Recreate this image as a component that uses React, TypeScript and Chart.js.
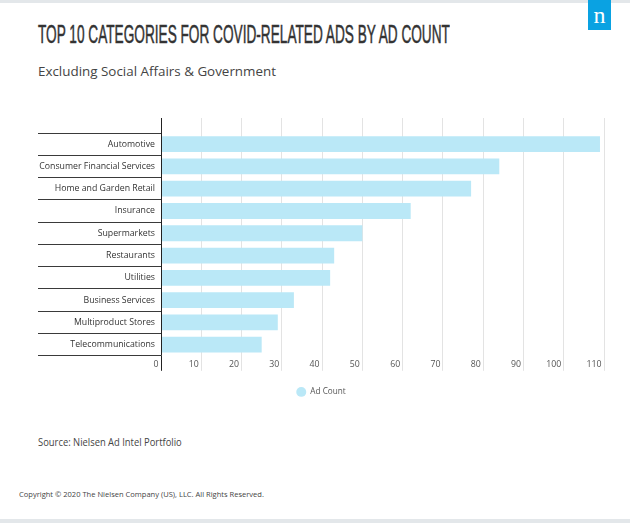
import React, { useEffect, useLayoutEffect, useRef } from "react";
import { Chart, registerables } from "chart.js";

Chart.register(...registerables);

const titleText = "TOP 10 CATEGORIES FOR COVID-RELATED ADS BY AD COUNT";
const subtitleText = "Excluding Social Affairs & Government";
const sourceText = "Source: Nielsen Ad Intel Portfolio";
const copyrightText = "Copyright © 2020 The Nielsen Company (US), LLC. All Rights Reserved.";

const categories = [
  "Automotive",
  "Consumer Financial Services",
  "Home and Garden Retail",
  "Insurance",
  "Supermarkets",
  "Restaurants",
  "Utilities",
  "Business Services",
  "Multiproduct Stores",
  "Telecommunications",
];
const adCounts = [109, 84, 77, 62, 50, 43, 42, 33, 29, 25];
const seriesName = "Ad Count";
const xMin = 0;
const xMax = 110;
const xStep = 10;

const BAR = "#bae8f7";
const GRID = "#e3e3e3";
const AXIS = "#222222";

function FitText(props: { text: string; width: number; style: React.CSSProperties }) {
  const ref = useRef<HTMLSpanElement | null>(null);
  useLayoutEffect(() => {
    const el = ref.current;
    if (!el) return;
    el.style.transform = "none";
    const w = el.offsetWidth;
    if (w > 0) el.style.transform = `scaleX(${props.width / w})`;
  }, [props.text, props.width]);
  return (
    <span
      ref={ref}
      style={{
        position: "absolute",
        display: "inline-block",
        whiteSpace: "nowrap",
        transformOrigin: "0 0",
        ...props.style,
      }}
    >
      {props.text}
    </span>
  );
}

function ChartCanvas() {
  const ref = useRef<HTMLCanvasElement | null>(null);
  useEffect(() => {
    if (!ref.current) return;
    const font = { family: "'Open Sans'", size: 8.75 };
    const isZero = (ctx: any) => ctx.tick && ctx.tick.value === 0;
    const chart = new Chart(ref.current, {
      type: "bar",
      data: {
        labels: categories,
        datasets: [
          {
            label: seriesName,
            data: adCounts,
            backgroundColor: BAR,
            borderWidth: 0,
            barPercentage: 0.71,
            categoryPercentage: 1,
          },
        ],
      },
      options: {
        indexAxis: "y",
        animation: false,
        responsive: false,
        devicePixelRatio: 1,
        layout: { padding: { left: 38, right: 26, top: 18, bottom: 4 } },
        plugins: {
          legend: {
            position: "bottom",
            labels: {
              usePointStyle: true,
              pointStyle: "circle",
              pointStyleWidth: 10,
              boxWidth: 10,
              boxHeight: 7,
              padding: 12,
              color: "#555",
              font: { family: "'Open Sans'", size: 8.2 },
            },
          },
          tooltip: { enabled: false },
        },
        scales: {
          x: {
            type: "linear",
            position: "bottom",
            min: xMin,
            max: xMax,
            ticks: {
              stepSize: xStep,
              align: "end",
              padding: -12,
              labelOffset: -2.5,
              color: "#555",
              font,
            },
            grid: {
              color: GRID,
              tickColor: (ctx: any) => (isZero(ctx) ? AXIS : GRID),
              tickLength: 15,
              lineWidth: 1,
            },
            border: { display: false },
            afterFit: (s: any) => {
              s.height = 20;
            },
          },
          x2: {
            type: "linear",
            axis: "x",
            position: "top",
            min: xMin,
            max: xMax,
            ticks: { stepSize: xStep, display: false },
            grid: {
              z: 1,
              color: (ctx: any) => (isZero(ctx) ? AXIS : "rgba(0,0,0,0)"),
              tickColor: (ctx: any) => (isZero(ctx) ? AXIS : GRID),
              tickLength: 15,
              lineWidth: 1,
            },
            border: { display: false },
            afterFit: (s: any) => {
              s.height = 15;
            },
          },
          y: {
            type: "category",
            offset: true,
            grid: {
              offset: true,
              drawOnChartArea: false,
              tickLength: 123,
              color: "#3a3a3a",
              lineWidth: 1,
            },
            border: { display: false },
            ticks: { padding: -117, color: "#333", font },
            afterFit: (s: any) => {
              s.width = 123;
            },
          },
        },
      } as any,
    });
    return () => chart.destroy();
  }, []);
  return (
    <canvas
      ref={ref}
      width={630}
      height={310}
      style={{ position: "absolute", left: 0, top: 100, width: 630, height: 310 }}
    />
  );
}

export default function App() {
  return (
    <div
      style={{
        position: "relative",
        width: 630,
        height: 523,
        overflow: "hidden",
        background: "#fff",
        fontFamily: "'Open Sans', sans-serif",
      }}
    >
      <style>{"body{margin:0}"}</style>
      <div style={{ position: "absolute", left: 0, top: 0, width: 630, height: 3, background: "#e3e7ea" }} />
      <div style={{ position: "absolute", left: 0, top: 519, width: 630, height: 4, background: "#e3e7ea" }} />
      <div
        style={{
          position: "absolute",
          left: 588,
          top: 0,
          width: 23,
          height: 30,
          background: "#0aa2e2",
          color: "#fff",
          fontFamily: "'Liberation Serif', serif",
          fontSize: 24,
          lineHeight: "24px",
          textAlign: "center",
        }}
      >
        <span style={{ position: "relative", top: 3 }}>n</span>
      </div>
      <FitText
        text={titleText}
        width={412}
        style={{
          left: 38,
          top: 22,
          fontFamily: "'Liberation Sans Narrow', 'Liberation Sans', sans-serif",
          fontWeight: 400,
          fontSize: 25,
          lineHeight: "25px",
          color: "#333",
          WebkitTextStroke: "0.5px #333",
        }}
      />
      <FitText
        text={subtitleText}
        width={238}
        style={{ left: 38, top: 64.5, fontSize: 13, lineHeight: "13px", color: "#444" }}
      />
      <ChartCanvas />
      <FitText
        text={sourceText}
        width={144}
        style={{ left: 38, top: 436.5, fontSize: 10.5, lineHeight: "10.5px", color: "#444" }}
      />
      <FitText
        text={copyrightText}
        width={245}
        style={{ left: 19, top: 490.4, fontSize: 8, lineHeight: "8px", color: "#444" }}
      />
    </div>
  );
}
